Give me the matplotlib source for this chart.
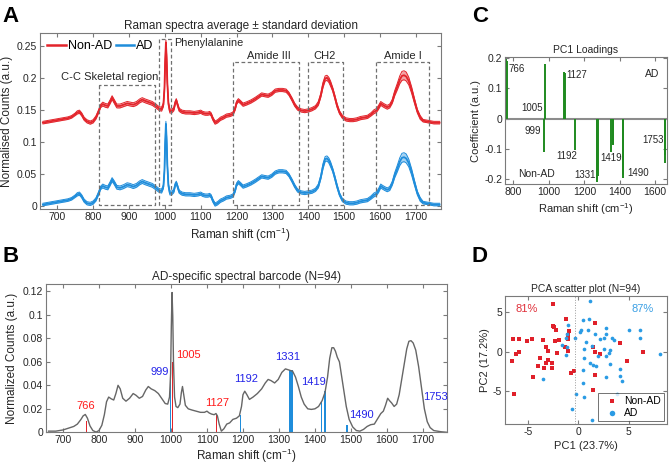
import matplotlib
matplotlib.use("Agg")
import matplotlib.pyplot as plt
from matplotlib.ticker import FuncFormatter

plt.rcParams["font.family"] = ["Liberation Sans", "DejaVu Sans"]
plt.rcParams["mathtext.default"] = "regular"
plt.rcParams["axes.unicode_minus"] = False

# Raman shift grid (cm-1), shared by all spectra
shift = [660, 670, 680, 690, 700, 710, 720, 730, 740, 750,
         756, 762, 768, 775, 783, 792, 800, 808, 815, 821,
         827, 834, 841, 847, 853, 859, 866, 875, 885, 895,
         903, 912, 921, 930, 937, 945, 955, 965, 975, 984,
         991, 996, 999, 1001, 1003, 1005, 1007, 1010, 1014, 1019,
         1025, 1029, 1032, 1035, 1040, 1048, 1058, 1070, 1082, 1093,
         1100, 1106, 1113, 1120, 1125, 1129, 1134, 1140, 1147, 1155,
         1163, 1172, 1182, 1190, 1196, 1200, 1205, 1211, 1218, 1228,
         1240, 1252, 1262, 1270, 1278, 1288, 1298, 1308, 1318, 1328,
         1338, 1346, 1354, 1362, 1370, 1380, 1390, 1400, 1410, 1420,
         1428, 1435, 1441, 1447, 1452, 1457, 1462, 1468, 1474, 1480,
         1487, 1495, 1505, 1515, 1525, 1535, 1545, 1555, 1565, 1575,
         1583, 1590, 1596, 1602, 1607, 1613, 1620, 1627, 1634, 1641,
         1648, 1655, 1661, 1667, 1673, 1680, 1688, 1696, 1704, 1712,
         1720, 1730, 1740, 1750, 1760, 1766]

# panel A: mean spectra (offset as drawn) and standard deviations
nonad_mean = [0.130, 0.131, 0.132, 0.133, 0.134, 0.135, 0.136, 0.137, 0.139, 0.143,
              0.146, 0.147, 0.143, 0.136, 0.132, 0.130, 0.132, 0.138, 0.147, 0.156,
              0.159, 0.157, 0.156, 0.162, 0.169, 0.163, 0.156, 0.156, 0.158, 0.160,
              0.159, 0.158, 0.160, 0.164, 0.166, 0.164, 0.162, 0.160, 0.156, 0.152,
              0.151, 0.158, 0.183, 0.226, 0.255, 0.232, 0.192, 0.160, 0.148, 0.148,
              0.151, 0.161, 0.165, 0.159, 0.150, 0.147, 0.146, 0.146, 0.145, 0.146,
              0.147, 0.145, 0.144, 0.144, 0.145, 0.143, 0.136, 0.130, 0.132, 0.136,
              0.138, 0.141, 0.142, 0.144, 0.152, 0.161, 0.165, 0.162, 0.158, 0.160,
              0.163, 0.167, 0.171, 0.174, 0.173, 0.172, 0.175, 0.180, 0.181, 0.181,
              0.180, 0.175, 0.167, 0.158, 0.152, 0.149, 0.148, 0.149, 0.151, 0.154,
              0.160, 0.173, 0.189, 0.199, 0.200, 0.197, 0.191, 0.182, 0.170, 0.157,
              0.146, 0.139, 0.135, 0.134, 0.134, 0.135, 0.137, 0.138, 0.139, 0.143,
              0.147, 0.149, 0.154, 0.160, 0.158, 0.156, 0.154, 0.156, 0.163, 0.176,
              0.186, 0.197, 0.203, 0.204, 0.202, 0.195, 0.181, 0.164, 0.148, 0.138,
              0.133, 0.132, 0.131, 0.130, 0.130, 0.130]
ad_mean = [0.002, 0.003, 0.004, 0.005, 0.006, 0.007, 0.008, 0.009, 0.011, 0.015,
           0.018, 0.019, 0.015, 0.008, 0.004, 0.003, 0.005, 0.010, 0.019, 0.028,
           0.031, 0.029, 0.028, 0.034, 0.041, 0.036, 0.029, 0.028, 0.030, 0.033,
           0.032, 0.030, 0.032, 0.036, 0.038, 0.036, 0.034, 0.032, 0.028, 0.024,
           0.023, 0.030, 0.055, 0.098, 0.128, 0.104, 0.064, 0.032, 0.020, 0.020,
           0.023, 0.033, 0.036, 0.031, 0.022, 0.019, 0.018, 0.018, 0.017, 0.018,
           0.019, 0.017, 0.016, 0.016, 0.017, 0.015, 0.008, 0.002, 0.004, 0.008,
           0.010, 0.013, 0.014, 0.016, 0.024, 0.033, 0.037, 0.034, 0.030, 0.032,
           0.035, 0.039, 0.043, 0.046, 0.045, 0.044, 0.047, 0.052, 0.054, 0.054,
           0.053, 0.048, 0.040, 0.031, 0.024, 0.021, 0.020, 0.021, 0.022, 0.025,
           0.031, 0.045, 0.062, 0.073, 0.074, 0.071, 0.065, 0.056, 0.044, 0.031,
           0.018, 0.009, 0.005, 0.004, 0.004, 0.005, 0.007, 0.008, 0.009, 0.013,
           0.017, 0.019, 0.024, 0.031, 0.029, 0.027, 0.025, 0.027, 0.035, 0.048,
           0.058, 0.069, 0.075, 0.076, 0.074, 0.067, 0.053, 0.036, 0.020, 0.010,
           0.005, 0.004, 0.003, 0.002, 0.002, 0.002]
nonad_sd = [0.002, 0.002, 0.002, 0.002, 0.002, 0.002, 0.002, 0.002, 0.002, 0.002,
            0.0025, 0.0025, 0.0025, 0.0025, 0.0025, 0.0025, 0.0025, 0.0025, 0.0025, 0.0025,
            0.003, 0.003, 0.003, 0.003, 0.003, 0.003, 0.003, 0.003, 0.003, 0.003,
            0.003, 0.003, 0.003, 0.003, 0.003, 0.003, 0.003, 0.003, 0.003, 0.003,
            0.003, 0.003, 0.003, 0.004, 0.004, 0.004, 0.003, 0.003, 0.003, 0.003,
            0.0025, 0.0025, 0.0025, 0.0025, 0.0025, 0.0025, 0.0025, 0.0025, 0.0025, 0.0025,
            0.0025, 0.0025, 0.0025, 0.0025, 0.0025, 0.0025, 0.0025, 0.0025, 0.0025, 0.0025,
            0.0025, 0.0025, 0.0025, 0.0025, 0.0025, 0.0025, 0.0025, 0.0025, 0.0025, 0.0025,
            0.0025, 0.0025, 0.0025, 0.0025, 0.0025, 0.0025, 0.0025, 0.0025, 0.0025, 0.0025,
            0.0025, 0.0025, 0.0025, 0.0025, 0.0025, 0.0025, 0.0025, 0.0025, 0.0025, 0.0025,
            0.003, 0.003, 0.004, 0.004, 0.004, 0.004, 0.004, 0.003, 0.003, 0.003,
            0.0025, 0.0025, 0.0025, 0.0025, 0.0025, 0.0025, 0.0025, 0.0025, 0.0025, 0.0025,
            0.003, 0.003, 0.003, 0.003, 0.003, 0.003, 0.003, 0.003, 0.003, 0.004,
            0.005, 0.006, 0.007, 0.007, 0.007, 0.006, 0.005, 0.004, 0.003, 0.003,
            0.002, 0.002, 0.002, 0.002, 0.002, 0.002]
ad_sd = [0.002, 0.002, 0.002, 0.002, 0.002, 0.002, 0.002, 0.002, 0.002, 0.002,
         0.0025, 0.0025, 0.0025, 0.0025, 0.0025, 0.0025, 0.0025, 0.0025, 0.0025, 0.0025,
         0.003, 0.003, 0.003, 0.003, 0.003, 0.003, 0.003, 0.003, 0.003, 0.003,
         0.003, 0.003, 0.003, 0.003, 0.003, 0.003, 0.003, 0.003, 0.003, 0.003,
         0.003, 0.003, 0.003, 0.004, 0.004, 0.004, 0.003, 0.003, 0.003, 0.003,
         0.0025, 0.0025, 0.0025, 0.0025, 0.0025, 0.0025, 0.0025, 0.0025, 0.0025, 0.0025,
         0.0025, 0.0025, 0.0025, 0.0025, 0.0025, 0.0025, 0.0025, 0.0025, 0.0025, 0.0025,
         0.0025, 0.0025, 0.0025, 0.0025, 0.0025, 0.0025, 0.0025, 0.0025, 0.0025, 0.0025,
         0.0025, 0.0025, 0.0025, 0.0025, 0.0025, 0.0025, 0.0025, 0.0025, 0.0025, 0.0025,
         0.0025, 0.0025, 0.0025, 0.0025, 0.0025, 0.0025, 0.0025, 0.0025, 0.0025, 0.0025,
         0.003, 0.003, 0.004, 0.004, 0.004, 0.004, 0.004, 0.003, 0.003, 0.003,
         0.0025, 0.0025, 0.0025, 0.0025, 0.0025, 0.0025, 0.0025, 0.0025, 0.0025, 0.0025,
         0.003, 0.003, 0.003, 0.003, 0.003, 0.003, 0.003, 0.003, 0.003, 0.004,
         0.005, 0.006, 0.007, 0.007, 0.007, 0.006, 0.005, 0.004, 0.003, 0.003,
         0.002, 0.002, 0.002, 0.002, 0.002, 0.002]

# spectral regions boxed in panel A: (name, start, end, top)
regions = [("C-C Skeletal region", 816, 972, 0.189),
           ("Phenylalanine", 984, 1018, 0.260),
           ("Amide III", 1190, 1374, 0.224),
           ("CH2", 1400, 1497, 0.224),
           ("Amide I", 1590, 1736, 0.224)]

# panel B: overall normalised spectrum and the barcode bands
barcode_counts = [0.001, 0.001, 0.001, 0.0015, 0.002, 0.003, 0.004, 0.005, 0.007, 0.011,
                  0.0140, 0.0152, 0.0120, 0.0055, 0.0015, 0.0002, 0.0015, 0.0060, 0.0150, 0.0260,
                  0.0300, 0.0285, 0.0275, 0.0330, 0.0400, 0.0370, 0.0290, 0.0265, 0.0290, 0.0330,
                  0.0315, 0.0290, 0.0305, 0.0360, 0.0390, 0.0370, 0.0355, 0.0330, 0.0285, 0.0245,
                  0.0240, 0.0300, 0.0500, 0.0900, 0.1190, 0.0990, 0.0600, 0.0300, 0.0220, 0.0210,
                  0.0240, 0.0340, 0.0390, 0.0330, 0.0230, 0.0200, 0.0190, 0.0180, 0.0170, 0.0170,
                  0.0180, 0.0165, 0.0155, 0.0150, 0.0160, 0.0140, 0.0070, 0.0010, 0.0030, 0.0070,
                  0.0080, 0.0110, 0.0120, 0.0140, 0.0220, 0.0320, 0.0350, 0.0320, 0.0280, 0.0300,
                  0.0330, 0.0370, 0.0420, 0.0450, 0.0440, 0.0420, 0.0450, 0.0510, 0.0540, 0.0530,
                  0.0520, 0.0470, 0.0390, 0.0300, 0.0240, 0.0200, 0.0195, 0.0200, 0.0220, 0.0270,
                  0.0340, 0.0470, 0.0630, 0.0720, 0.0720, 0.0690, 0.0640, 0.0600, 0.0480, 0.0360,
                  0.0220, 0.0110, 0.0045, 0.0015, 0.0010, 0.0025, 0.0050, 0.0065, 0.0070, 0.0120,
                  0.0160, 0.0180, 0.0230, 0.0290, 0.0270, 0.0250, 0.0220, 0.0240, 0.0320, 0.0450,
                  0.0580, 0.0710, 0.0775, 0.0780, 0.0760, 0.0700, 0.0560, 0.0380, 0.0200, 0.0090,
                  0.0040, 0.0015, 0.0010, 0.0005, 0.0002, 0.0000]
band_shift = [766, 1005, 1127, 999, 1192, 1333, 1419, 1428, 1490]
band_height = [0.010, 0.060, 0.015, 0.045, 0.015, 0.053, 0.027, 0.035, 0.006]
band_width = [4, 3, 4, 3, 3, 11, 3, 3, 6]
band_group = ["Non-AD", "Non-AD", "Non-AD", "AD", "AD", "AD", "AD", "AD", "AD"]
band_labels = ["766", "1005", "1127", "999", "1192", "1331", "1419", "1490", "1753"]
band_label_x = [762, 1049, 1127, 969, 1208, 1324, 1397, 1530, 1735]
band_label_y = [0.022, 0.066, 0.025, 0.051, 0.045, 0.064, 0.043, 0.015, 0.030]
band_label_group = ["Non-AD", "Non-AD", "Non-AD", "AD", "AD", "AD", "AD", "AD", "AD"]

# panel C: PC1 loadings at the selected wavenumbers
load_shift = [765, 767, 999, 1005, 1126, 1128, 1192, 1329, 1331, 1333,
              1419, 1427, 1429, 1489, 1491, 1752, 1754]
load_coef = [0.195, 0.19, -0.109, 0.18, 0.152, 0.148, -0.104, -0.21, -0.20, -0.19,
             -0.109, -0.088, -0.085, -0.194, -0.185, -0.145, -0.12]
load_labels = ["766", "1005", "1127", "999", "1192", "1331", "1419", "1490", "1753"]
load_label_x = [830, 924, 1204, 928, 1142, 1254, 1414, 1586, 1677]
load_label_y = [0.163, 0.036, 0.142, -0.040, -0.123, -0.185, -0.129, -0.180, -0.069]
load_tick_labels = ["800", "1000", "1200", "1400", "1600"]

# panel D: PCA scores
nonad_pc1 = [-2.5, -1.2, -2.5, -2.4, -2.2, -0.9, 1.7, -1.0, -6.5, -5.9,
             -4.6, -5.1, -3.5, -1.9, -2.3, -1.0, -3.2, -3.0, -5.9, -6.2,
             -6.6, -2.1, -1.3, -1.0, -3.8, -3.0, -3.2, -2.6, -4.0, -3.4,
             -2.6, -4.5, -0.7, -0.4, 1.7, 1.5, -6.4, 1.5, 1.7, 2.2,
             4.1, 4.8, 6.4]
nonad_pc2 = [6.1, 4.2, 3.2, 3.1, 2.7, 2.6, 3.6, 2.1, 1.6, 1.6,
             1.6, 1.4, 1.5, 1.5, 1.4, 1.6, 0.6, 0.1, 0.0, -0.3,
             -1.2, -0.1, 0.6, 0.1, -0.8, -1.0, -1.4, -1.4, -1.8, -2.1,
             -2.1, -3.2, -2.7, -2.4, -3.0, -4.8, -5.3, 0.6, 0.0, -0.3,
             1.1, -1.2, 0.0]
ad_pc1 = [1.2, 0.5, 1.1, -1.0, 2.7, 0.2, 0.3, 1.0, 1.7, 2.7,
          5.0, 6.1, -1.2, -0.3, -1.6, -1.1, 0.8, 2.2, 2.5, 3.3,
          3.5, 6.1, 1.4, 0.6, 2.5, 3.1, 3.0, 2.7, 2.0, 8.1,
          -1.2, 0.6, 1.2, 1.5, 1.8, 3.1, 4.1, 0.5, 2.7, 4.1,
          4.3, 0.5, -3.5, -0.2, 0.6, 3.8, -0.6, 1.4, -1.1]
ad_pc2 = [6.4, 4.0, 4.2, 3.4, 3.0, 2.5, 2.7, 2.8, 2.3, 2.3,
          2.8, 2.7, 1.7, 1.7, 0.8, 0.6, 1.2, 1.6, 1.7, 1.7,
          1.5, 1.7, 0.7, 0.3, 0.3, 0.2, -0.2, -0.5, -0.5, -0.3,
          -0.4, -0.8, -1.4, -1.7, -1.8, -1.6, -2.2, -2.3, -3.2, -3.1,
          -3.7, -4.0, -3.5, -5.3, -5.8, -5.3, -7.3, -8.6, 2.2]

RED = "#e3242b"
BLUE = "#1f8ddb"
AXC = "#7a7a7a"
TXT = "#262626"


def style(ax):
    for s in ax.spines.values():
        s.set_color(AXC)
        s.set_linewidth(0.8)
    ax.tick_params(direction="in", top=True, right=True, length=3,
                   color=AXC, labelcolor=TXT, labelsize=7.5, pad=2)
    ax.xaxis.label.set_color(TXT)
    ax.yaxis.label.set_color(TXT)


fmt = FuncFormatter(lambda v, p: "%g" % round(v, 4))

fig = plt.figure(figsize=(6.69, 4.65), dpi=100)

# ---- A ----
axA = fig.add_axes([0.0598, 0.5505, 0.5994, 0.3785])
for mean, sd, col, light, name in [(nonad_mean, nonad_sd, RED, "#f3a3a5", "Non-AD"),
                                   (ad_mean, ad_sd, BLUE, "#a5d2f3", "AD")]:
    lo = [m - s for m, s in zip(mean, sd)]
    hi = [m + s for m, s in zip(mean, sd)]
    axA.fill_between(shift, lo, hi, color=light, lw=0)
    axA.plot(shift, lo, color=col, lw=0.7)
    axA.plot(shift, hi, color=col, lw=0.7)
    axA.plot(shift, mean, color=col, lw=1.3, label=name)
for name, x0, x1, top in regions:
    axA.plot([x0, x0, x1, x1, x0], [top, 0.001, 0.001, top, top], ls="--",
             color="#707070", lw=0.9, dashes=(3, 2))
axA.text(845, 0.202, "C-C Skeletal region", fontsize=8, ha="center", va="center", color=TXT)
axA.text(1027, 0.254, "Phenylalanine", fontsize=7.8, ha="left", va="center", color=TXT)
axA.text(1291, 0.234, "Amide III", fontsize=8, ha="center", va="center", color=TXT)
axA.text(1446, 0.234, "CH2", fontsize=8, ha="center", va="center", color=TXT)
axA.text(1664, 0.234, "Amide I", fontsize=8, ha="center", va="center", color=TXT)
axA.set_xlim(652, 1770)
axA.set_ylim(-0.005, 0.27)
axA.set_xticks(range(700, 1800, 100))
axA.set_yticks([0, 0.05, 0.1, 0.15, 0.2, 0.25])
axA.yaxis.set_major_formatter(fmt)
axA.set_title("Raman spectra average \u00b1 standard deviation", fontsize=8.5, color=TXT, pad=3)
axA.set_xlabel("Raman shift (cm$^{-1}$)", fontsize=8.5, labelpad=3)
axA.set_ylabel("Normalised Counts (a.u.)", fontsize=8.5, labelpad=3)
legA = axA.legend(loc="upper left", ncol=2, frameon=False, fontsize=9, handlelength=1.5,
                  columnspacing=0.3, handletextpad=0.15, borderaxespad=0.15)
for ln in legA.get_lines():
    ln.set_linewidth(1.8)
style(axA)

# ---- B ----
axB = fig.add_axes([0.0683, 0.0703, 0.5994, 0.3183])
axB.plot(shift, barcode_counts, color="#666666", lw=1.0)
for x, h, w, g in zip(band_shift, band_height, band_width, band_group):
    axB.bar(x, h, width=w, color=RED if g == "Non-AD" else BLUE, lw=0)
for t, x, y, g in zip(band_labels, band_label_x, band_label_y, band_label_group):
    axB.text(x, y, t, fontsize=8, ha="center", va="center",
             color="#ff1a1a" if g == "Non-AD" else "#2323e8")
axB.set_xlim(652, 1766)
axB.set_ylim(0, 0.126)
axB.set_xticks(range(700, 1800, 100))
axB.set_yticks([0, 0.02, 0.04, 0.06, 0.08, 0.1, 0.12])
axB.yaxis.set_major_formatter(fmt)
axB.set_title("AD-specific spectral barcode (N=94)", fontsize=8.5, color=TXT, pad=3)
axB.set_xlabel("Raman shift (cm$^{-1}$)", fontsize=8.5, labelpad=1)
axB.set_ylabel("Normalized Counts (a.u.)", fontsize=8.5, labelpad=3)
style(axB)

# ---- C ----
axC = fig.add_axes([0.7549, 0.6043, 0.2422, 0.2731])
axC.axhline(0, color="#8c8c8c", lw=1.5)
axC.vlines(load_shift, 0, load_coef, color="#1f8a1f", lw=1.4)
for t, x, y in zip(load_labels, load_label_x, load_label_y):
    axC.text(x, y, t, fontsize=7, ha="center", va="center", color=TXT)
axC.text(0.95, 0.87, "AD", transform=axC.transAxes, fontsize=7.5, ha="right", va="center", color=TXT)
axC.text(0.08, 0.075, "Non-AD", transform=axC.transAxes, fontsize=7.5, ha="left", va="center", color=TXT)
axC.set_xlim(756, 1765)
axC.set_ylim(-0.215, 0.202)
# tick labels sit where the reference prints them along the axis
xl0, xl1 = axC.get_xlim()
axC.set_xticks([xl0 + f * (xl1 - xl0) for f in (0.05, 0.27, 0.49, 0.71, 0.925)],
               load_tick_labels)
axC.set_yticks([-0.2, -0.1, 0, 0.1, 0.2])
axC.yaxis.set_major_formatter(fmt)
axC.set_title("PC1 Loadings", fontsize=7.5, color=TXT, pad=3)
axC.set_xlabel("Raman shift (cm$^{-1}$)", fontsize=8, labelpad=3)
axC.set_ylabel("Coefficient (a.u.)", fontsize=8, labelpad=2)
style(axC)

# ---- D ----
axD = fig.add_axes([0.7549, 0.0875, 0.2426, 0.2766])
axD.axvline(-0.35, color="#9a9a9a", lw=0.7, ls=":")
axD.scatter(nonad_pc1, nonad_pc2, marker="s", s=5, color="#e0202a", lw=0, label="Non-AD")
axD.scatter(ad_pc1, ad_pc2, marker="o", s=7, color="#2a9be4", lw=0, label="AD")
axD.text(-5.1, 5.4, "81%", fontsize=8, color="#e0303a", ha="center", va="center")
axD.text(6.4, 5.4, "87%", fontsize=8, color="#3a9fe4", ha="center", va="center")
axD.set_xlim(-7.3, 8.85)
axD.set_ylim(-9.2, 7.1)
axD.set_xticks([-5, 0, 5])
axD.set_yticks([-5, 0, 5])
axD.set_title("PCA scatter plot (N=94)", fontsize=7.5, color=TXT, pad=3)
axD.set_xlabel("PC1 (23.7%)", fontsize=8, labelpad=3)
axD.set_ylabel("PC2 (17.2%)", fontsize=8, labelpad=2)
leg = axD.legend(loc="lower right", fontsize=7.5, markerscale=1.5, handletextpad=0.2,
                 borderpad=0.3, labelspacing=0.2, fancybox=False, borderaxespad=0.3)
leg.get_frame().set_edgecolor("#333333")
leg.get_frame().set_linewidth(0.6)
style(axD)

# panel letters
fig.text(0.004, 0.953, "A", fontsize=16, fontweight="bold", va="baseline")
fig.text(0.004, 0.437, "B", fontsize=16, fontweight="bold", va="baseline")
fig.text(0.705, 0.953, "C", fontsize=16, fontweight="bold", va="baseline")
fig.text(0.705, 0.437, "D", fontsize=16, fontweight="bold", va="baseline")

fig.savefig("out.png", dpi=100)
